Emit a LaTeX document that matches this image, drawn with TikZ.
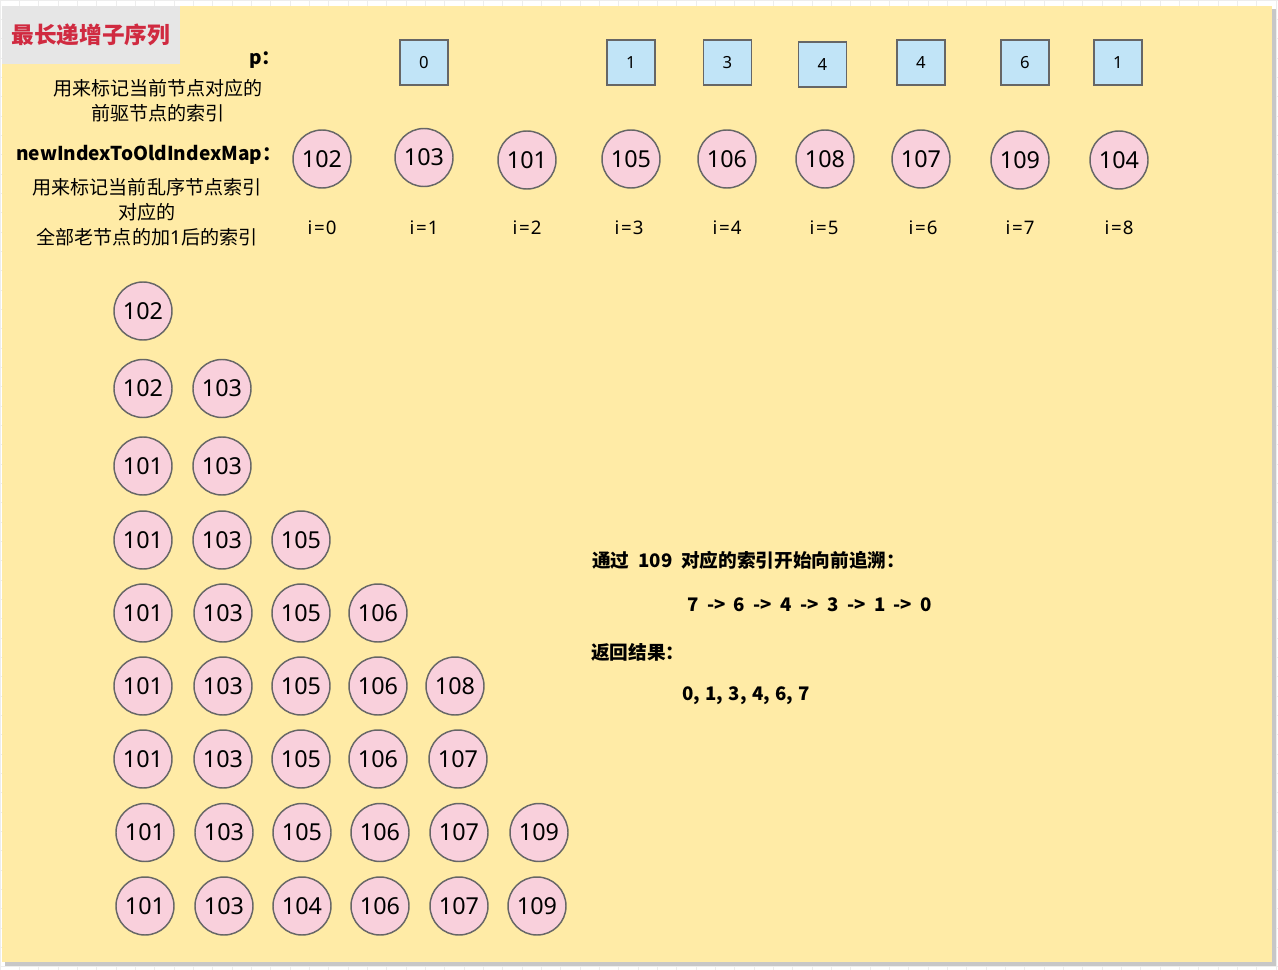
\documentclass[tikz,border=0pt]{standalone}
\usepackage{fontspec}
\setmainfont{Noto Sans CJK SC}
\newfontfamily\latin{Noto Sans}
\newcommand\gp{\hspace{6.3pt}}
\newcommand\gq{\hspace{4pt}}
\definecolor{panelc}{RGB}{255,235,166}
\definecolor{pinkc}{RGB}{249,208,220}
\definecolor{bluec}{RGB}{193,228,247}
\definecolor{strokec}{RGB}{102,102,102}
\definecolor{titlec}{RGB}{208,42,64}
\definecolor{titlebg}{RGB}{230,230,230}
\begin{document}
\begin{tikzpicture}[x=0.75pt,y=-0.75pt,
  circ/.style={circle,draw=strokec,fill=pinkc,line width=1.1pt,minimum size=43.5pt,inner sep=0pt,font=\latin\fontsize{17.5}{20}\selectfont},
  sq/.style={rectangle,draw=strokec,fill=bluec,line width=1.1pt,minimum width=36pt,minimum height=33.5pt,inner sep=0pt,font=\latin\fontsize{12.5}{14}\selectfont},
  idx/.style={inner sep=0pt,font=\latin\fontsize{14}{16}\selectfont},
  desc/.style={inner sep=0pt,align=center,font=\fontsize{14.3}{18.75}\selectfont},
  lbl/.style={inner sep=0pt,anchor=west,font=\bfseries\fontsize{14.3}{16}\selectfont},
  note/.style={inner sep=0pt,anchor=west,font=\bfseries\fontsize{14}{16}\selectfont}
]
\useasboundingbox (0,0) rectangle (1278,970);
\fill[white] (0,0) rectangle (1278,970);
\draw[black!7,step=14.5pt] (0,0) grid (1278,970);
% panel with shadow
\fill[black!22] (5,9) rectangle (1276,966);
\fill[panelc] (2,6) rectangle (1272,962);
% title
\fill[titlebg] (2,6) rectangle (180,64);
\node[inner sep=0pt,text=titlec,font=\bfseries\fontsize{17}{20}\selectfont] (title) at (91,35) {最长递增子序列};
% left labels
\node[lbl] (plbl) at (249,60) {p：};
\node[desc] (pdesc) at (158,100.5) {用来标记当前节点对应的\\前驱节点的索引};
\node[lbl] (mlbl) at (16,155) {newIndexToOldIndexMap：};
\node[desc] (mdesc) at (147,212) {用来标记当前乱序节点索引\\对应的\\全部老节点的加{\latin 1}后的索引};
% p squares
\foreach \xx/\yy/\v/\n in {424/62.5/0/p0, 631/62.5/1/p3, 727.5/62.5/3/p4, 822.5/64.5/4/p5, 921/62.5/4/p6, 1025/62.5/6/p7, 1118/62.5/1/p8}
  \node[sq] (\n) at (\xx,\yy) {\v};
% map circles
\foreach \xx/\yy/\v [count=\c from 0] in {322/159/102, 424/157.5/103, 527/160/101, 631/159/105, 727/159/106, 825/159/108, 921/159/107, 1020/160/109, 1119/160/104}
  \node[circ] (m\c) at (\xx,\yy) {\v};
% indices
\foreach \xx [count=\c from 0] in {322,424,527,629,727,824,923,1020,1119}
  \node[idx] (i\c) at (\xx,228) {i\kern1.3pt=\kern0.8pt\c};
% lower rows
\foreach \r/\yy/\items in {
  1/311/{143/102},
  2/388.5/{143/102,222/103},
  3/466/{143/101,222/103},
  4/540/{143/101,222/103,301/105},
  5/613/{143/101,223/103,301/105,378/106},
  6/686/{143/101,223/103,301/105,378/106,455/108},
  7/759/{143/101,223/103,301/105,378/106,458/107},
  8/832.5/{145/101,224/103,302/105,380/106,459/107,539/109},
  9/906/{145/101,224/103,302/104,380/106,459/107,537/109}}
{
  \foreach \xx/\v [count=\c] in \items
    \node[circ] (r\r c\c) at (\xx,\yy) {\v};
}
% notes
\node[note] (n1) at (592,560) {通过\hspace{6.5pt}109\hspace{6.5pt}对应的索引开始向前追溯：};
\node[note] (n2) at (687,605) {7\gp->\gp6\gp->\gp4\gp->\gp3\gp->\gp1\gp->\gp0};
\node[note] (n3) at (591,652) {返回结果：};
\node[note] (n4) at (682,696) {0,\gq1,\gq3,\gq4,\gq6,\gq7};
\end{tikzpicture}
\end{document}
